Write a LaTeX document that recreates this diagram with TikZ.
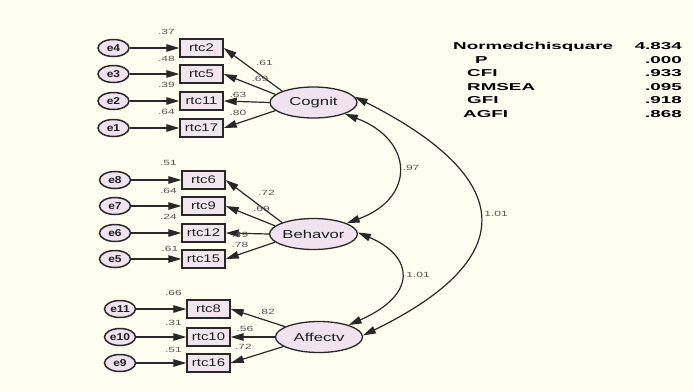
\documentclass[tikz,border=0pt]{standalone}
\usepackage{fontspec}
\setmainfont{Liberation Sans}
\usetikzlibrary{shapes.geometric,arrows.meta}
\definecolor{bg}{RGB}{253,254,240}
\definecolor{nodefill}{RGB}{240,226,238}
\definecolor{boxfill}{RGB}{242,230,238}
\definecolor{linec}{RGB}{40,40,40}
\definecolor{labc}{RGB}{85,85,85}
\definecolor{txtc}{RGB}{30,30,30}
\newcommand{\sx}[2]{\scalebox{#1}[1]{#2}}
\tikzset{
 errnode/.style={ellipse, draw=linec, line width=1.5pt, fill=nodefill, minimum width=31pt, minimum height=17pt, inner sep=0pt, text=txtc, font=\bfseries\fontsize{10}{10}\selectfont},
 obsbox/.style={rectangle, draw=linec, line width=1.4pt, fill=boxfill, minimum width=43pt, minimum height=18pt, inner sep=0pt, text=txtc, font=\fontsize{11}{11}\selectfont},
 latent/.style={ellipse, draw=linec, line width=1.3pt, fill=nodefill, minimum width=87pt, minimum height=31pt, inner sep=0pt, text=txtc, font=\fontsize{11.5}{11.5}\selectfont},
 arr/.style={draw=linec, line width=1.2pt, -{Triangle[length=13pt,width=7.5pt]}},
 cov/.style={draw=linec, line width=1.2pt, {Triangle[length=13pt,width=7.5pt]}-{Triangle[length=13pt,width=7.5pt]}},
 lab/.style={text=labc, font=\fontsize{7.5}{8}\selectfont, inner sep=0pt},
 stat/.style={text=black, font=\bfseries\fontsize{10}{10}\selectfont, inner sep=0pt},
}
\begin{document}
\begin{tikzpicture}[x=1pt,y=-1pt]
\fill[bg] (0,0) rectangle (693,391);
\useasboundingbox (0,0) rectangle (693,391);

% Cognit group
\node[latent] (cog) at (313.5,102.5) {\sx{1.45}{Cognit}};
\node[obsbox] (rtc2) at (201.5,48) {\sx{1.35}{rtc2}};
\node[obsbox] (rtc5) at (201.5,74) {\sx{1.35}{rtc5}};
\node[obsbox] (rtc11) at (201.5,101) {\sx{1.35}{rtc11}};
\node[obsbox] (rtc17) at (201.5,128) {\sx{1.35}{rtc17}};
\node[errnode] (e4) at (113.5,48) {\sx{1.2}{e4}};
\node[errnode] (e3) at (113.5,74) {\sx{1.2}{e3}};
\node[errnode] (e2) at (113.5,101) {\sx{1.2}{e2}};
\node[errnode] (e1) at (113.5,128) {\sx{1.2}{e1}};
\draw[arr] (e4) -- (rtc2);
\draw[arr] (e3) -- (rtc5);
\draw[arr] (e2) -- (rtc11);
\draw[arr] (e1) -- (rtc17);
\draw[arr] (cog.160) -- (rtc2.east);
\draw[arr] (cog.168) -- (rtc5.east);
\draw[arr] (cog.180) -- (rtc11.east);
\draw[arr] (cog.192) -- (rtc17.east);
\node[lab] (l37) at (166.5,31.7) {\sx{1.6}{.37}};
\node[lab] (l48) at (166.5,59.3) {\sx{1.6}{.48}};
\node[lab] (l39) at (166.5,85) {\sx{1.6}{.39}};
\node[lab] (l64) at (166.5,111.7) {\sx{1.6}{.64}};
\node[lab] (l61) at (264.5,62.7) {\sx{1.6}{.61}};
\node[lab] (l69) at (260,79) {\sx{1.6}{.69}};
\node[lab] (l63) at (238,95) {\sx{1.6}{.63}};
\node[lab] (l80) at (238,112.7) {\sx{1.6}{.80}};

% Behavor group
\node[latent] (beh) at (313.5,234) {\sx{1.45}{Behavor}};
\node[obsbox] (rtc6) at (203.5,180) {\sx{1.35}{rtc6}};
\node[obsbox] (rtc9) at (203.5,206) {\sx{1.35}{rtc9}};
\node[obsbox] (rtc12) at (203.5,233) {\sx{1.35}{rtc12}};
\node[obsbox] (rtc15) at (203.5,259) {\sx{1.35}{rtc15}};
\node[errnode] (e8) at (115,180) {\sx{1.2}{e8}};
\node[errnode] (e7) at (115,206) {\sx{1.2}{e7}};
\node[errnode] (e6) at (115,233) {\sx{1.2}{e6}};
\node[errnode] (e5) at (115,259) {\sx{1.2}{e5}};
\draw[arr] (e8) -- (rtc6);
\draw[arr] (e7) -- (rtc9);
\draw[arr] (e6) -- (rtc12);
\draw[arr] (e5) -- (rtc15);
\draw[arr] (beh.160) -- (rtc6.east);
\draw[arr] (beh.168) -- (rtc9.east);
\draw[arr] (beh.180) -- (rtc12.east);
\draw[arr] (beh.192) -- (rtc15.east);
\node[lab] (l51a) at (168.5,163) {\sx{1.6}{.51}};
\node[lab] (l64b) at (168.5,190.7) {\sx{1.6}{.64}};
\node[lab] (l24) at (168.5,216.7) {\sx{1.6}{.24}};
\node[lab] (l61b) at (170,249) {\sx{1.6}{.61}};
\node[lab] (l72a) at (266.5,193) {\sx{1.6}{.72}};
\node[lab] (l69b) at (261.5,209) {\sx{1.6}{.69}};
\node[lab] (l49) at (240,235) {\sx{1.6}{.49}};
\node[lab] (l78) at (240,245) {\sx{1.6}{.78}};

% Affectv group
\node[latent] (aff) at (319,337) {\sx{1.45}{Affectv}};
\node[obsbox] (rtc8) at (208.5,309) {\sx{1.35}{rtc8}};
\node[obsbox] (rtc10) at (208.5,337) {\sx{1.35}{rtc10}};
\node[obsbox] (rtc16) at (208.5,363) {\sx{1.35}{rtc16}};
\node[errnode] (e11) at (120,309) {\sx{1.2}{e11}};
\node[errnode] (e10) at (120,337) {\sx{1.2}{e10}};
\node[errnode] (e9) at (120,363) {\sx{1.2}{e9}};
\draw[arr] (e11) -- (rtc8);
\draw[arr] (e10) -- (rtc10);
\draw[arr] (e9) -- (rtc16);
\draw[arr] (aff.163) -- (rtc8.east);
\draw[arr] (aff.180) -- (rtc10.east);
\draw[arr] (aff.195) -- (rtc16.east);
\node[lab] (l66) at (173.5,293) {\sx{1.6}{.66}};
\node[lab] (l31) at (173.5,323) {\sx{1.6}{.31}};
\node[lab] (l51b) at (173.5,350) {\sx{1.6}{.51}};
\node[lab] (l82) at (266.5,312) {\sx{1.6}{.82}};
\node[lab] (l56) at (245,329) {\sx{1.6}{.56}};
\node[lab] (l72b) at (243.5,347) {\sx{1.6}{.72}};

% covariances
\draw[cov] (cog.-20) .. controls (414,140) and (416,198) .. (beh.18);
\draw[cov] (beh.2) .. controls (413,256) and (419,294) .. (aff.22);
\draw[cov] (cog.8) .. controls (514,177) and (524,257) .. (aff.2);
\node[lab] (l97) at (411,168) {\sx{1.6}{.97}};
\node[lab] (l101a) at (418,275) {\sx{1.6}{1.01}};
\node[lab] (l101b) at (496,214) {\sx{1.6}{1.01}};

% fit statistics
\node[stat, anchor=base west] (s1) at (453,49.6) {\sx{1.88}{Normedchisquare}};
\node[stat, anchor=base west] (s2) at (475,63.1) {\sx{1.88}{P}};
\node[stat, anchor=base west] (s3) at (467,76.6) {\sx{1.88}{CFI}};
\node[stat, anchor=base west] (s4) at (467,90.1) {\sx{1.88}{RMSEA}};
\node[stat, anchor=base west] (s5) at (467,103.6) {\sx{1.88}{GFI}};
\node[stat, anchor=base west] (s6) at (463,117.1) {\sx{1.88}{AGFI}};
\node[stat, anchor=base east] (v1) at (682,49.6) {\sx{1.88}{4.834}};
\node[stat, anchor=base east] (v2) at (682,63.1) {\sx{1.88}{.000}};
\node[stat, anchor=base east] (v3) at (682,76.6) {\sx{1.88}{.933}};
\node[stat, anchor=base east] (v4) at (682,90.1) {\sx{1.88}{.095}};
\node[stat, anchor=base east] (v5) at (682,103.6) {\sx{1.88}{.918}};
\node[stat, anchor=base east] (v6) at (682,117.1) {\sx{1.88}{.868}};
\end{tikzpicture}
\end{document}
